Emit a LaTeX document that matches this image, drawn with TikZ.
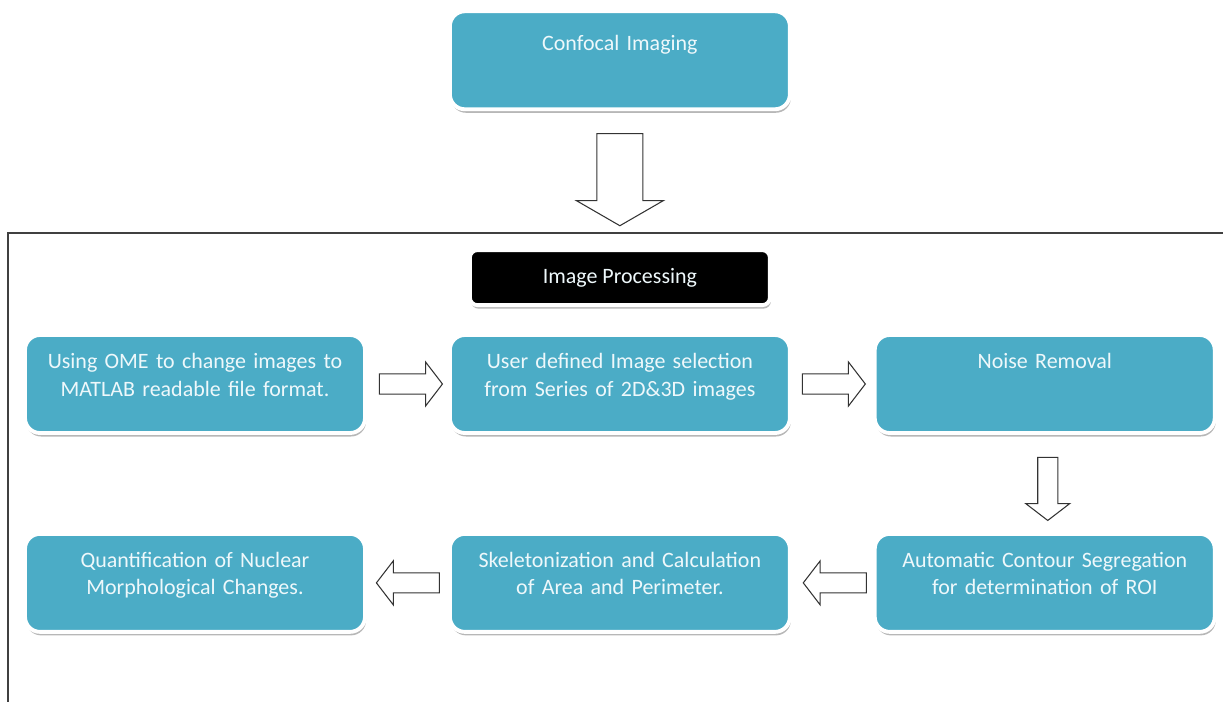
\documentclass[tikz,border=0pt]{standalone}
\usepackage{fontspec}
\setmainfont{Carlito}
\usepackage{tikz}
\usetikzlibrary{positioning,shapes,shadows}
\definecolor{stageblue}{HTML}{4BACC6}
\definecolor{stagetext}{HTML}{EEF8FB}
\tikzstyle{STAGE_COLOR}=[fill=stageblue]
\tikzstyle{TITLE_COLOR}=[fill=black]
\tikzstyle{layer} = [rectangle, draw=white, line width=2.2pt, rounded corners=0.3cm,
   drop shadow={shadow xshift=0.6pt, shadow yshift=-2pt, fill=black!40, opacity=0.7},
   font=\fontsize{12.5}{15.4}\selectfont, text=stagetext]
\tikzstyle{stage}= [layer, STAGE_COLOR, minimum width=6.8cm, minimum height=1.96cm,
   text width=6.5cm, align=center, text height=0.4cm, text depth=1.0cm]
\tikzstyle{TITLE_LAYER} = [layer, TITLE_COLOR, rounded corners=0.15cm, minimum width=6cm, minimum height=1.1cm]
\tikzstyle{block}= [single arrow, draw=black!80, fill=white, line width=0.6pt, inner sep=0.19cm,
   single arrow head extend=0.24cm, single arrow tip angle=105, minimum height=1.26cm]
\tikzstyle{bigblock}= [block, inner sep=0.45cm, single arrow head extend=0.41cm, single arrow tip angle=120,
   minimum height=1.84cm]
\tikzstyle{frame}= [draw=black!75, line width=0.85pt]

\begin{document}
\begin{tikzpicture}[node distance = 1.94cm and 1.62cm]
      \useasboundingbox (0,0) rectangle (24.46,-14.04);

      %%%%%%%%%%%%%%%%%%%%%%%%%%%%%%%%%%%%%%%%%%
      % IMAGE PROCESSING, FIRST ROW
      %%%%%%%%%%%%%%%%%%%%%%%%%%%%%%%%%%%%%%%%%%%
      \node[stage] (ome) at (3.9,-7.68) {Using OME to change images to\\ MATLAB readable file format.};
      \node[stage, right= of ome]   (sel)   {User defined Image selection\\ from Series of 2D\&3D images};
      \node[stage, right= of sel]   (noise) {Noise Removal};
      \node[TITLE_LAYER, above= 0.52cm of sel] (title) {Image Processing};

      %%%%%%%%%%%%%%%%%%%%%%%%%%%%%%%%%%%%%%%%%%
      % IMAGE PROCESSING, SECOND ROW
      %%%%%%%%%%%%%%%%%%%%%%%%%%%%%%%%%%%%%%%%%%%
      \node[stage, below= of noise]   (contour) {Automatic Contour Segregation\\ for determination of ROI};
      \node[stage, left= of contour]  (skel)    {Skeletonization and Calculation\\ of Area and Perimeter.};
      \node[stage, left= of skel]     (quant)   {Quantification of Nuclear\\ Morphological Changes.};

      %%%%%%%%%%%%%%%%%%%%%%%%%%%%%%%%%%%%%%%%%%
      % CONFOCAL IMAGING
      %%%%%%%%%%%%%%%%%%%%%%%%%%%%%%%%%%%%%%%%%%%
      \node[stage, text depth=0.8cm, above= 2.74cm of title] (confocal) {Confocal Imaging};
      \node[bigblock, shape border rotate=270, anchor=tail] (down1) at ([yshift=-0.44cm]confocal.south) {};

      \draw[frame] (24.46,-4.66) -- (0.16,-4.66) -- (0.16,-14.04);

      % block arrows
      \node[block, anchor=tail] (r1) at ([xshift=0.24cm]ome.east) {};
      \node[block, anchor=tail] (r2) at ([xshift=0.2cm]sel.east) {};
      \node[block, shape border rotate=270, anchor=tail] (down2) at ([xshift=0.06cm, yshift=-0.44cm]noise.south) {};
      \node[block, shape border rotate=180, anchor=tail] (l1) at ([xshift=-0.12cm]contour.west) {};
      \node[block, shape border rotate=180, anchor=tail] (l2) at ([xshift=-0.16cm]skel.west) {};

\end{tikzpicture}
\end{document}
